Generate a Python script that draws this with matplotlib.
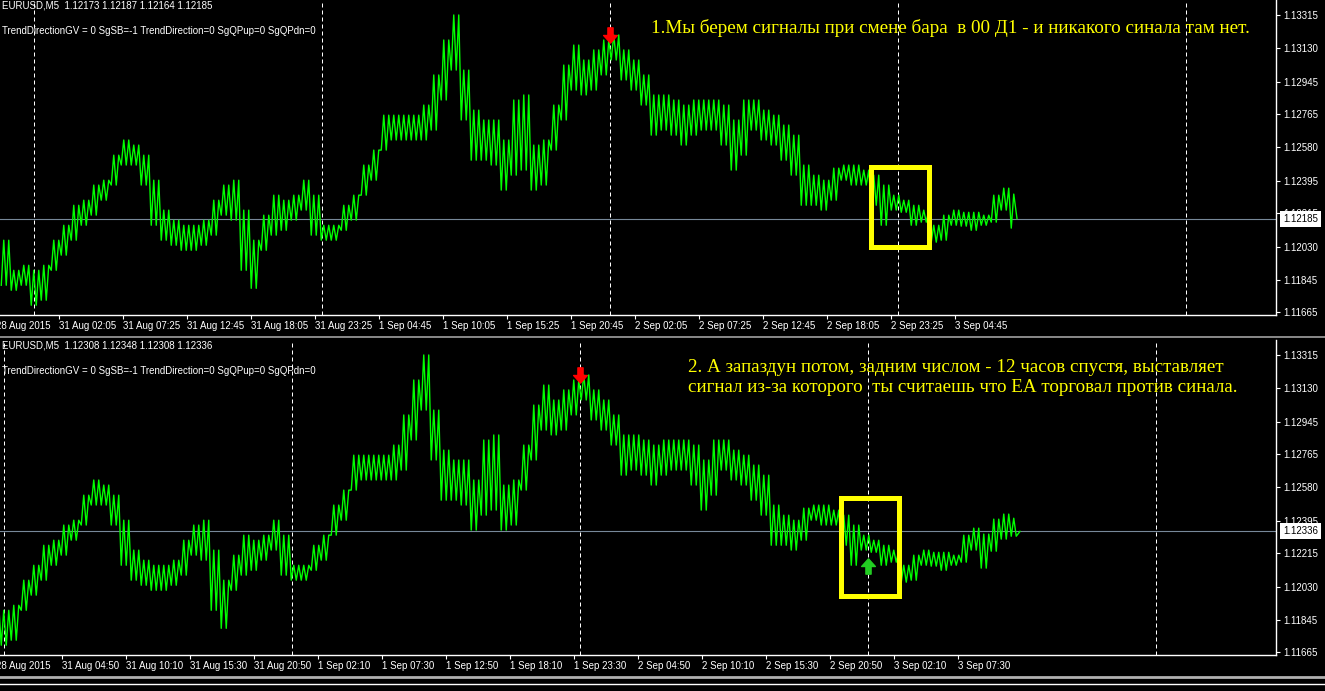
import matplotlib.pyplot as plt
from matplotlib.path import Path
from matplotlib.patches import Rectangle
import numpy as np
import pandas as pd

plt.rcParams['font.family'] = ['Liberation Sans', 'DejaVu Sans']

W, H = 1325, 691
BAR0 = pd.Timestamp("2015-08-30 21:10")   # первый бар верхнего графика
BUCKET = 10                               # баров в одном отсчёте полосы
SWINGS = 4                                # точек ломаной на отсчёт

# EURUSD M5: верх / низ цены по отрезкам в 10 баров
band_hi = [1.12065, 1.11898, 1.11926, 1.11898, 1.11926, 1.12065, 1.12148, 1.12259, 1.12287, 1.12371,
           1.12398, 1.12537, 1.12621, 1.12593, 1.12537, 1.12398, 1.12232, 1.12176, 1.12148, 1.12148,
           1.12176, 1.12287, 1.12371, 1.12398, 1.12232, 1.12065, 1.12204, 1.12315, 1.12287, 1.12315,
           1.12398, 1.12315, 1.12148, 1.12148, 1.12259, 1.12315, 1.12482, 1.12565, 1.12759, 1.12759,
           1.12759, 1.12759, 1.12815, 1.12982, 1.13176, 1.13315, 1.13009, 1.12787, 1.12732, 1.12732,
           1.12621, 1.12843, 1.12871, 1.12593, 1.12621, 1.12815, 1.13037, 1.13148, 1.13065, 1.13121,
           1.13176, 1.13204, 1.13121, 1.13065, 1.12982, 1.12871, 1.12871, 1.12843, 1.12815, 1.12843,
           1.12843, 1.12843, 1.12815, 1.12732, 1.12843, 1.12843, 1.12787, 1.12759, 1.12704, 1.12648,
           1.12482, 1.12426, 1.12398, 1.12465, 1.12482, 1.12482, 1.12454, 1.12426, 1.12371, 1.12315,
           1.12287, 1.12259, 1.12232, 1.12148, 1.12204, 1.12232, 1.12220, 1.12220, 1.12204, 1.12315,
           1.12354, 1.12321, 1.12404, 1.12432, 1.12409]
band_lo = [1.11815, 1.11787, 1.11815, 1.11704, 1.11732, 1.11898, 1.11982, 1.12065, 1.12148, 1.12204,
           1.12287, 1.12371, 1.12482, 1.12482, 1.12371, 1.12148, 1.12065, 1.12037, 1.12009, 1.12009,
           1.12037, 1.12093, 1.12204, 1.12176, 1.11898, 1.11798, 1.12009, 1.12093, 1.12120, 1.12176,
           1.12232, 1.12093, 1.12065, 1.12065, 1.12120, 1.12176, 1.12315, 1.12398, 1.12565, 1.12621,
           1.12621, 1.12621, 1.12621, 1.12676, 1.12843, 1.13009, 1.12732, 1.12509, 1.12509, 1.12482,
           1.12343, 1.12426, 1.12454, 1.12343, 1.12371, 1.12565, 1.12732, 1.12898, 1.12871, 1.12898,
           1.12982, 1.13065, 1.12954, 1.12898, 1.12815, 1.12648, 1.12676, 1.12648, 1.12593, 1.12648,
           1.12676, 1.12676, 1.12593, 1.12454, 1.12537, 1.12676, 1.12621, 1.12593, 1.12509, 1.12426,
           1.12259, 1.12259, 1.12232, 1.12287, 1.12398, 1.12371, 1.12371, 1.12259, 1.12148, 1.12232,
           1.12220, 1.12148, 1.12165, 1.12054, 1.12065, 1.12148, 1.12143, 1.12120, 1.12148, 1.12165,
           1.12232, 1.12132, 1.12226, 1.12293, 1.12309]

top_ohlc = [1.12173, 1.12187, 1.12164, 1.12185]
bot_ohlc = [1.12308, 1.12348, 1.12308, 1.12336]
top_last_bar = 1017
bot_last_bar = 1050
bot_shift = 30

price_ticks = [1.13315, 1.13130, 1.12945, 1.12765, 1.12580, 1.12395, 1.12215, 1.12030, 1.11845, 1.11665]
top_label_start = "2015-08-31 02:05"
bot_label_start = "2015-08-31 04:50"
n_labels = 15
day_starts = ["2015-08-31", "2015-09-01", "2015-09-02", "2015-09-03", "2015-09-04"]

sell_signal = ("2015-09-02 00:00", 1.13204)
buy_signal = ("2015-09-03 00:00", 1.12143)
box_bars = (870.5, 928.5)
top_box = (1.12029, 1.12473)
bot_box = (1.11979, 1.12523)

indicator = "TrendDirectionGV = 0 SgSB=-1 TrendDirection=0 SgQPup=0 SgQPdn=0"
note1 = "1.Мы берем сигналы при смене бара  в 00 Д1 - и никакого синала там нет."
note2a = "2. А запаздун потом, задним числом - 12 часов спустя, выставляет"
note2b = "сигнал из-за которого  ты считаешь что ЕА торговал против синала."


def bar(t):
    return (pd.Timestamp(t) - BAR0) / pd.Timedelta("5min")


# ломаная внутри полосы: низ/верх поочерёдно
xs, ys = [], []
step = BUCKET / SWINGS
for k, (h, l) in enumerate(zip(band_hi, band_lo)):
    for j in range(SWINGS):
        xs.append(k * BUCKET + step * (j + 0.5))
        ys.append(l if (k * SWINGS + j) % 2 == 0 else h)
xs = np.array(xs)
ys = np.array(ys)

down_arrow = Path([(-0.17, 0.5), (0.17, 0.5), (0.17, 0.0), (0.45, 0.0), (0, -0.5),
                   (-0.45, 0.0), (-0.17, 0.0), (-0.17, 0.5)],
                  [Path.MOVETO] + [Path.LINETO] * 6 + [Path.CLOSEPOLY])
up_arrow = Path(down_arrow.vertices * [1, -1], down_arrow.codes)

fig = plt.figure(figsize=(W / 100, H / 100), dpi=100, facecolor='black')


def chart(top_px, shift, last_bar, ohlc, label_start, box):
    ax = fig.add_axes([0, 1 - (top_px + 315) / H, 1276 / W, 315 / H])
    ax.set_facecolor('black')
    ax.set_xlim(shift, shift + 1276)
    ax.set_ylim(1.11650, 1.13398)
    for s in ['left', 'top']:
        ax.spines[s].set_visible(False)
    for s in ['right', 'bottom']:
        ax.spines[s].set_color('white')
        ax.spines[s].set_linewidth(1)

    for d in day_starts:
        ax.axvline(bar(d), color='white', lw=0.72, ls=(0, (4, 3)), zorder=1)
    ax.axhline(ohlc[3], color='#778899', lw=0.8, zorder=1)

    m = xs < last_bar - 1.5
    ax.plot(np.append(xs[m], last_bar), np.append(ys[m], ohlc[3]),
            color='#00ff00', lw=1.0, zorder=2)

    ax.add_patch(Rectangle((box_bars[0], box[0]), box_bars[1] - box_bars[0], box[1] - box[0],
                           fill=False, ec='#ffff00', lw=3.6, zorder=4))
    ax.plot(bar(sell_signal[0]), sell_signal[1], marker=down_arrow, ms=11,
            color='#ff0000', mec='#ff0000', zorder=5)

    ax.yaxis.tick_right()
    ax.set_yticks(price_ticks)
    ax.set_yticklabels([f"{p:.5f}" for p in price_ticks])
    ax.tick_params(axis='y', colors='white', length=3, width=0.8, pad=2, labelsize=7)

    times = pd.date_range(label_start, periods=n_labels, freq="320min")
    ax.set_xticks([bar(t) for t in times])
    ax.set_xticklabels([f"{t.day} {t:%b %H:%M}" for t in times])
    ax.tick_params(axis='x', colors='white', length=3, width=0.8, pad=1.5, labelsize=7)
    for lb in ax.get_xticklabels():
        lb.set_horizontalalignment('left')
    ax.annotate("28 Aug 2015", xy=(shift - 4, 0), xycoords=('data', 'axes fraction'),
                xytext=(0, -4.5), textcoords='offset points', ha='left', va='top',
                fontsize=7, color='white', annotation_clip=False)

    ax.annotate(f"{ohlc[3]:.5f}", xy=(1, ohlc[3]), xycoords=('axes fraction', 'data'),
                xytext=(5, 0), textcoords='offset points', ha='left', va='center',
                fontsize=7, color='black', annotation_clip=False,
                bbox=dict(boxstyle='square,pad=0.3', fc='white', ec='none'))

    ax.text(0.0015, 1 - 6 / 315, "EURUSD,M5  " + " ".join(f"{v:.5f}" for v in ohlc),
            transform=ax.transAxes, va='center', ha='left', fontsize=7, color='white')
    ax.text(0.0015, 1 - 31 / 315, indicator, transform=ax.transAxes,
            va='center', ha='left', fontsize=7, color='white')
    return ax


ax1 = chart(0, 0, top_last_bar, top_ohlc, top_label_start, top_box)
ax2 = chart(340, bot_shift, bot_last_bar, bot_ohlc, bot_label_start, bot_box)
ax2.plot(bar(buy_signal[0]), buy_signal[1], marker=up_arrow, ms=11,
         color='#22cc22', mec='#22cc22', zorder=5)

serif = dict(family=['Liberation Serif', 'DejaVu Serif'], color='#ffff00', va='center')
fig.text(651 / W, 1 - 28 / H, note1, fontsize=13.8, **serif)
fig.text(688 / W, 1 - 368 / H, note2a, fontsize=13.7, **serif)
fig.text(688 / W, 1 - 388 / H, note2b, fontsize=13.7, **serif)

# разделитель окон и полоса прокрутки внизу
fig.add_artist(plt.Line2D([0, 1], [1 - 337 / H] * 2, color='#a0a0a0', lw=1.2))
fig.add_artist(plt.Line2D([0, 1], [1 - 677 / H] * 2, color='#b0b0b0', lw=2))
fig.add_artist(plt.Line2D([0, 1], [1 - 684 / H] * 2, color='white', lw=1))

fig.savefig("out.png", dpi=100, facecolor='black')
